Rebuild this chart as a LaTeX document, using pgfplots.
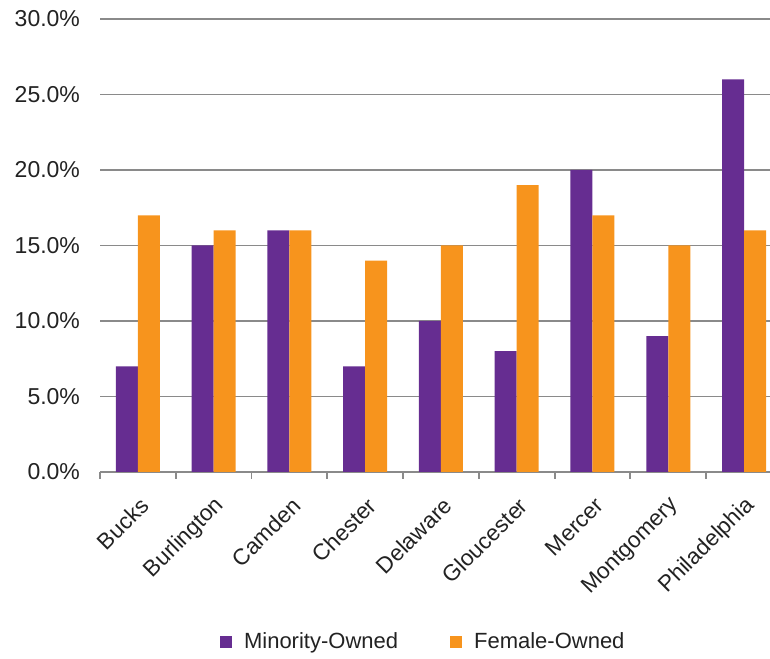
\documentclass[border=0pt]{standalone}
\usepackage{pgfplots}
\pgfplotsset{compat=1.18}
\usepackage{fontspec}
\setmainfont{Liberation Sans}

\definecolor{minority}{HTML}{662D91}
\definecolor{female}{HTML}{F7941D}
\definecolor{gridgray}{HTML}{8A8A8A}
\definecolor{textgray}{HTML}{222222}

\pgfplotstableread{
idx minority female
0   7   17
1   15  16
2   16  16
3   7   14
4   10  15
5   8   19
6   20  17
7   9   15
8   26  16
}\ownership

\begin{document}
\begin{tikzpicture}
\useasboundingbox (0,0) rectangle (385pt,329pt);
\begin{axis}[
  at={(50pt,93pt)}, anchor=south west,
  scale only axis,
  width=335pt, height=226.5pt,
  ybar=0pt, bar width=11pt,
  xmin=-0.5, xmax=8.343,
  ymin=0, ymax=30,
  ytick={0,5,...,30},
  yticklabel={\pgfmathprintnumber[fixed,fixed zerofill,precision=1]{\tick}\%},
  /pgf/number format/assume math mode=true,
  ymajorgrids,
  grid style={gridgray, line width=0.9pt},
  axis x line*=bottom,
  axis y line*=left,
  y axis line style={draw=none},
  x axis line style={gridgray, line width=0.9pt, -},
  xtick={-0.5,0.5,...,7.5},
  xticklabels={},
  tick align=outside,
  major x tick style={gridgray, line width=0.9pt},
  major tick length=3.5pt,
  extra x ticks={0,...,8},
  extra x tick labels={Bucks,Burlington,Camden,Chester,Delaware,Gloucester,Mercer,Montgomery,Philadelphia},
  extra x tick style={major tick length=0pt, xmajorgrids=false},
  xticklabel style={rotate=45, anchor=east, font=\fontsize{11.3}{13}\selectfont, text=textgray, inner sep=1pt, yshift=-13pt, xshift=-7pt},
  yticklabel style={font=\fontsize{11.5}{13}\selectfont, text=textgray, xshift=-3pt},
  major y tick style={draw=none},
  legend columns=2,
  legend style={at={(0.484,-0.375)}, anchor=center, draw=none, fill=none,
    font=\fontsize{11}{13}\selectfont, text=textgray,
    /tikz/every odd column/.append style={column sep=4pt},
    /tikz/every even column/.append style={column sep=24pt}},
  legend image code/.code={\fill[#1] (0pt,-3pt) rectangle (6pt,3pt);},
]
\addplot[fill=minority, draw=none] table[x=idx, y=minority] {\ownership};
\addplot[fill=female, draw=none] table[x=idx, y=female] {\ownership};
\legend{Minority-Owned, Female-Owned}
\end{axis}
\end{tikzpicture}
\end{document}
